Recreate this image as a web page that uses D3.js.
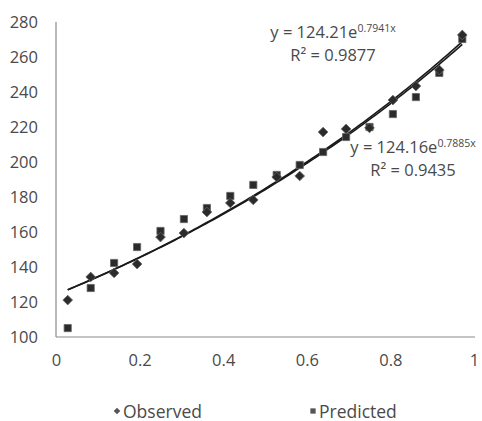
<!DOCTYPE html>
<html>
<head>
<meta charset="utf-8">
<script src="https://cdn.jsdelivr.net/npm/d3@7"></script>
<style>
  html, body { margin: 0; padding: 0; background: #fff; }
  svg { display: block; font-family: "Open Sans", "DejaVu Sans", sans-serif; }
</style>
</head>
<body>
<svg id="chart" width="482" height="421"></svg>
<script>
// Sample positions (x) and the two series
const xValues = [0.028, 0.083, 0.139, 0.194, 0.25, 0.306, 0.361, 0.417, 0.472,
                 0.528, 0.583, 0.639, 0.694, 0.75, 0.806, 0.861, 0.917, 0.972];
const observed = [121.1, 134.3, 136.6, 141.7, 157.1, 159.4, 171.4, 176.6, 178.3,
                  191.4, 192.0, 217.1, 218.9, 219.5, 235.4, 243.4, 252.6, 272.6];
const predicted = [105.1, 128.0, 142.3, 151.4, 160.6, 167.4, 173.7, 180.6, 186.9,
                   192.6, 198.3, 205.7, 214.3, 220.0, 227.4, 237.1, 250.9, 270.3];

// Exponential trend fits y = a * e^(b x)
const fitObserved = { a: 124.21, b: 0.7941, r2: "0.9877" };
const fitPredicted = { a: 124.16, b: 0.7885, r2: "0.9435" };

const xTicks = [0, 0.2, 0.4, 0.6, 0.8, 1];
const yTicks = [100, 120, 140, 160, 180, 200, 220, 240, 260, 280];
const seriesNames = ["Observed", "Predicted"];

const svg = d3.select("#chart");
const textColor = "#4a4a4a";
const markColor = "#2b2b2b";
const labelSize = "16.5px";

const x = d3.scaleLinear().domain([0, 1]).range([56, 474]);
const y = d3.scaleLinear().domain([100, 280]).range([337, 22]);

// Axis lines
svg.append("line").attr("x1", 56).attr("x2", 56).attr("y1", 22).attr("y2", 337)
  .attr("stroke", "#8a8a8a").attr("stroke-width", 1.2);
svg.append("line").attr("x1", 56).attr("x2", 475).attr("y1", 337).attr("y2", 337)
  .attr("stroke", "#8a8a8a").attr("stroke-width", 1.2);

// Tick labels
const yAxis = svg.append("g").attr("transform", "translate(56,0)")
  .call(d3.axisLeft(y).tickValues(yTicks).tickSize(0).tickPadding(18).tickFormat(d3.format("d")));
const xAxis = svg.append("g").attr("transform", "translate(0,337)")
  .call(d3.axisBottom(x).tickValues(xTicks).tickSize(0).tickPadding(17).tickFormat(d => d === 0 || d === 1 ? d3.format("d")(d) : d3.format(".1f")(d)));
[yAxis, xAxis].forEach(g => {
  g.select(".domain").remove();
  g.selectAll("text").attr("fill", textColor).style("font-size", labelSize)
    .style("font-family", "\"Open Sans\", sans-serif");
});

// Trend curves
const fitLine = fit => d3.line()
  .x(d => x(d))
  .y(d => y(fit.a * Math.exp(fit.b * d)));
const xs = d3.range(0, 101).map(i => xValues[0] + (xValues[xValues.length - 1] - xValues[0]) * i / 100);
[fitPredicted, fitObserved].forEach(fit => {
  svg.append("path").datum(xs).attr("d", fitLine(fit))
    .attr("fill", "none").attr("stroke", "#1a1a1a").attr("stroke-width", 1.6);
});

// Markers
const diamond = d3.symbol().type(d3.symbolDiamond2).size(60);
const square = d3.symbol().type(d3.symbolSquare).size(52);

svg.append("g").selectAll("path").data(predicted).join("path")
  .attr("d", square)
  .attr("transform", (d, i) => `translate(${x(xValues[i])},${y(d)})`)
  .attr("fill", markColor).attr("stroke", "#666").attr("stroke-width", 0.8);

svg.append("g").selectAll("path").data(observed).join("path")
  .attr("d", diamond)
  .attr("transform", (d, i) => `translate(${x(xValues[i])},${y(d)})`)
  .attr("fill", markColor).attr("stroke", "#666").attr("stroke-width", 0.8);

// Equation labels
function equation(cx, cy, fit) {
  const t = svg.append("text").attr("x", cx).attr("y", cy).attr("text-anchor", "middle")
    .attr("fill", textColor).style("font-size", labelSize);
  t.append("tspan").text(`y = ${fit.a}e`);
  t.append("tspan").text(`${fit.b}x`).attr("dy", -6).style("font-size", "10.5px");
  svg.append("text").attr("x", cx).attr("y", cy + 23).attr("text-anchor", "middle")
    .attr("fill", textColor).style("font-size", labelSize).text(`R² = ${fit.r2}`);
}
equation(333, 38, fitObserved);
equation(413, 153, fitPredicted);

// Legend
const legend = svg.append("g");
const legendItems = [
  { name: seriesNames[0], sym: d3.symbol().type(d3.symbolDiamond2).size(28), x: 117 },
  { name: seriesNames[1], sym: d3.symbol().type(d3.symbolSquare).size(28), x: 313 }
];
legendItems.forEach(item => {
  legend.append("path").attr("d", item.sym)
    .attr("transform", `translate(${item.x},411)`).attr("fill", "#555");
  legend.append("text").attr("x", item.x + 6).attr("y", 417.5)
    .attr("fill", textColor).style("font-size", "17.5px").text(item.name);
});
</script>
</body>
</html>
